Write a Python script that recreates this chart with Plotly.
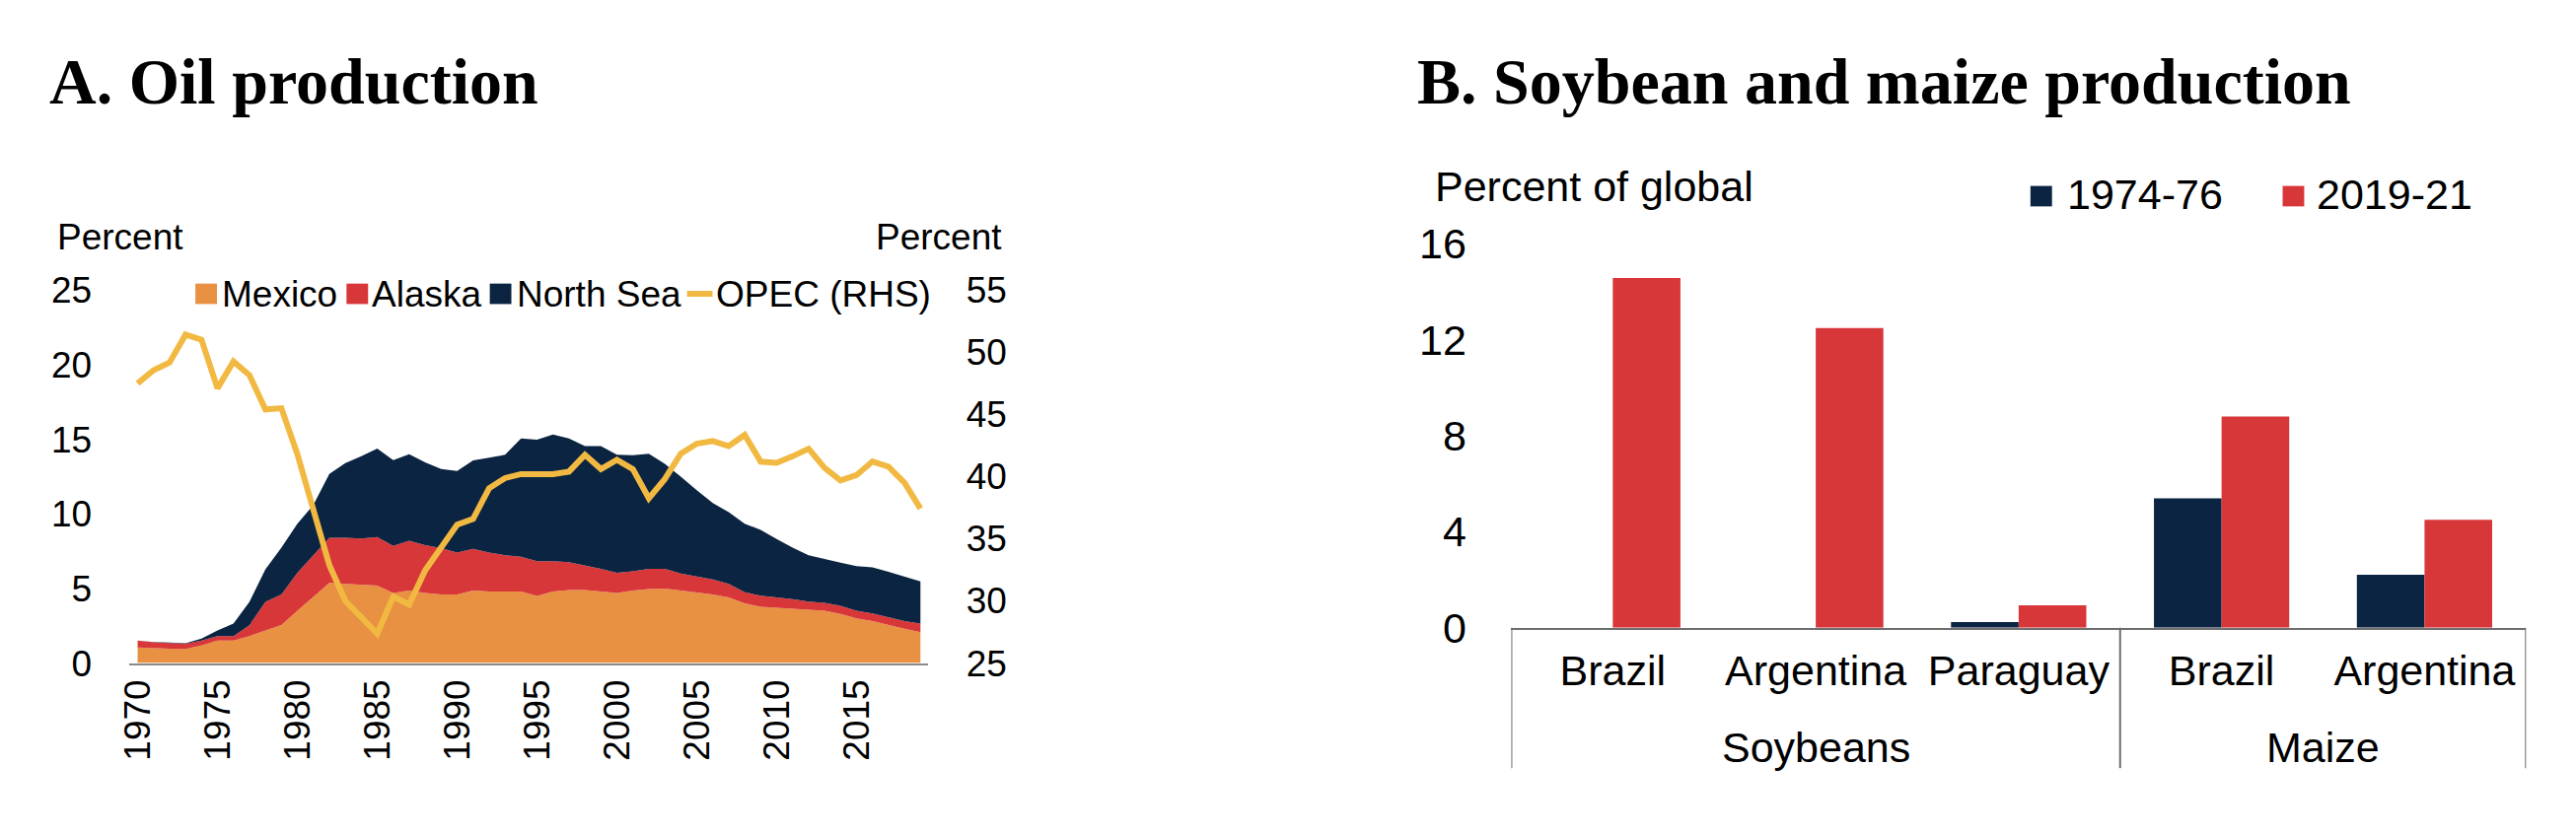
import plotly.graph_objects as go

# ---------------- Data ----------------
years = list(range(1970, 2020))

# Panel A: share of global oil production (percent), stacked
mexico = [1.04, 0.98, 0.96, 0.94, 1.18, 1.50, 1.50, 1.81, 2.20, 2.55,
          3.50, 4.45, 5.37, 5.30, 5.27, 5.20, 4.70, 4.86, 4.70, 4.60,
          4.60, 4.86, 4.80, 4.80, 4.80, 4.50, 4.80, 4.90, 4.90, 4.80,
          4.70, 4.86, 4.96, 5.00, 4.86, 4.75, 4.60, 4.40, 4.00, 3.77,
          3.70, 3.63, 3.57, 3.50, 3.30, 3.00, 2.82, 2.55, 2.30, 2.07]
alaska = [0.46, 0.41, 0.39, 0.35, 0.32, 0.31, 0.31, 0.73, 1.90, 2.05,
          2.55, 2.75, 3.03, 3.10, 3.08, 3.25, 3.15, 3.34, 3.20, 3.10,
          2.80, 2.79, 2.60, 2.43, 2.33, 2.33, 2.03, 1.86, 1.66, 1.52,
          1.35, 1.29, 1.36, 1.32, 1.14, 1.05, 1.00, 0.90, 0.75, 0.75,
          0.72, 0.65, 0.54, 0.54, 0.54, 0.50, 0.51, 0.54, 0.52, 0.58]
north_sea = [0.00, 0.02, 0.03, 0.04, 0.14, 0.37, 0.83, 1.56, 2.18, 3.14,
             3.29, 3.40, 4.27, 5.00, 5.51, 5.92, 5.75, 5.80, 5.55, 5.30,
             5.47, 5.93, 6.36, 6.73, 7.92, 8.15, 8.49, 8.29, 7.98, 8.22,
             7.91, 7.78, 7.71, 7.03, 6.50, 5.78, 5.13, 4.82, 4.59, 4.41,
             3.90, 3.46, 3.12, 2.92, 2.89, 2.99, 3.09, 3.02, 2.95, 2.82]
opec = [47.5, 48.56, 49.17, 51.42, 51.0, 47.1, 49.26, 48.16, 45.4, 45.5,
        41.8, 37.35, 32.87, 30.0, 28.6, 27.36, 30.34, 29.7, 32.46, 34.3,
        36.13, 36.6, 39.06, 39.88, 40.2, 40.2, 40.2, 40.4, 41.75, 40.6,
        41.35, 40.6, 38.25, 39.8, 41.84, 42.65, 42.86, 42.45, 43.35, 41.2,
        41.1, 41.63, 42.24, 40.7, 39.68, 40.12, 41.22, 40.8, 39.5, 37.43]
series_a_names = ["Mexico", "Alaska", "North Sea", "OPEC (RHS)"]
a_ticks_left = [0, 5, 10, 15, 20, 25]
a_ticks_right = [25, 30, 35, 40, 45, 50, 55]
a_year_ticks = list(range(1970, 2020, 5))

# Panel B: percent of global production
groups = ["Soybeans", "Soybeans", "Soybeans", "Maize", "Maize"]
countries = ["Brazil", "Argentina", "Paraguay", "Brazil", "Argentina"]
p1974_76 = [None, None, 0.23, 5.39, 2.21]
p2019_21 = [14.57, 12.48, 0.93, 8.80, 4.50]
series_b_names = ["1974-76", "2019-21"]
b_ticks = [0, 4, 8, 12, 16]

# ---------------- Styling ----------------
W, H = 2612, 848
ORANGE = "#E89142"
RED = "#D8373A"
NAVY = "#0B2442"
YELLOW = "#F2B942"
AXIS_GREY = "#6e6e6e"
SANS = "Liberation Sans, Arial, sans-serif"
SERIF = "Liberation Serif, Times New Roman, serif"


def fx(p):
    return p / W


def fy(p):
    return 1 - p / H


fig = go.Figure()

area_colors = [ORANGE, RED, NAVY]
for name, vals, col in zip(series_a_names[:3], [mexico, alaska, north_sea], area_colors):
    fig.add_trace(go.Scatter(
        x=years, y=vals, name=name, stackgroup="a", mode="lines",
        line=dict(width=0, color=col), fillcolor=col,
        xaxis="x", yaxis="y", showlegend=False))

fig.add_trace(go.Scatter(
    x=years, y=opec, name=series_a_names[3], mode="lines",
    line=dict(color=YELLOW, width=6, shape="linear"),
    xaxis="x", yaxis="y2", showlegend=False))

# unique category keys for panel B (group + country), labelled by country
cat_keys = [g + " " + c for g, c in zip(groups, countries)]
for name, vals, col in zip(series_b_names, [p1974_76, p2019_21], [NAVY, RED]):
    fig.add_trace(go.Bar(
        x=cat_keys, y=vals, name=name, marker=dict(color=col, line=dict(width=0)),
        xaxis="x3", yaxis="y3", showlegend=False))

tick_font_a = dict(family=SANS, size=37, color="black")
tick_font_b = dict(family=SANS, size=43, color="black")

fig.update_layout(
    width=W, height=H, autosize=False,
    margin=dict(l=0, r=0, t=0, b=0),
    paper_bgcolor="white", plot_bgcolor="rgba(0,0,0,0)",
    barmode="group", bargap=1/3, bargroupgap=0,
    xaxis=dict(domain=[fx(111), fx(925)], range=[1969.5, 2019.5],
               tickvals=a_year_ticks, tickangle=-90, tickfont=tick_font_a,
               showgrid=False, zeroline=False, showline=True, linecolor="#8a8a8a",
               linewidth=2, ticks="", anchor="y"),
    yaxis=dict(domain=[fy(679), fy(278)], range=[0, 25], tickvals=a_ticks_left,
               tickfont=tick_font_a, showgrid=False, zeroline=False, showline=False,
               ticks="outside", ticklen=30, tickcolor="rgba(0,0,0,0)", anchor="x"),
    yaxis2=dict(range=[25, 55], tickvals=a_ticks_right, overlaying="y", side="right",
                tickfont=tick_font_a, showgrid=False, zeroline=False, showline=False,
                ticks="outside", ticklen=30, tickcolor="rgba(0,0,0,0)", anchor="x"),
    xaxis3=dict(domain=[fx(1519), fx(2553)], type="category",
                categoryorder="array", categoryarray=cat_keys,
                tickvals=cat_keys, ticktext=countries, range=[-0.5, len(cat_keys) - 0.5],
                tickfont=tick_font_b, showgrid=False, zeroline=False, showline=True,
                linecolor=AXIS_GREY, linewidth=2,
                ticks="outside", ticklen=5, tickcolor="rgba(0,0,0,0)", anchor="y3"),
    yaxis3=dict(domain=[fy(641), fy(228)], range=[0, 16], tickvals=b_ticks,
                tickfont=tick_font_b, showgrid=False, zeroline=False, showline=False,
                ticks="outside", ticklen=36, tickcolor="rgba(0,0,0,0)", anchor="x3"),
)

ann = []
shapes = []


def text(x, y, s, size, family=SANS, anchor="left"):
    ann.append(dict(x=fx(x), y=fy(y), xref="paper", yref="paper", text=s,
                    showarrow=False, xanchor=anchor, yanchor="middle",
                    font=dict(family=family, size=size, color="black")))


# Titles
text(27, 53, "<b>A. Oil production</b>", 66, SERIF)
text(1421, 53, "<b>B. Soybean and maize production</b>", 66, SERIF)
# Axis unit labels
text(35, 221, "Percent", 37)
text(1002, 221, "Percent", 37, anchor="right")
text(1439, 166, "Percent of global", 43)

# Legend, panel A
leg_a_y = 282
for (x0, x1, tx), name, col in zip([(178, 200, 203), (332, 354, 356), (478, 500, 504)],
                                   series_a_names[:3], area_colors):
    shapes.append(dict(type="rect", xref="paper", yref="paper",
                       x0=fx(x0), x1=fx(x1), y0=fy(leg_a_y + 11), y1=fy(leg_a_y - 11),
                       fillcolor=col, line=dict(width=0)))
    text(tx, leg_a_y, name, 37)
shapes.append(dict(type="line", xref="paper", yref="paper", x0=fx(679), x1=fx(705),
                   y0=fy(leg_a_y), y1=fy(leg_a_y), line=dict(color=YELLOW, width=6)))
text(707, leg_a_y, series_a_names[3], 37)

# Legend, panel B
leg_b_y = 177
for (x0, x1, tx), name, col in zip([(2048, 2070, 2083), (2305, 2327, 2338)],
                                   series_b_names, [NAVY, RED]):
    shapes.append(dict(type="rect", xref="paper", yref="paper",
                       x0=fx(x0), x1=fx(x1), y0=fy(leg_b_y + 11), y1=fy(leg_b_y - 11),
                       fillcolor=col, line=dict(width=0)))
    text(tx, leg_b_y - 2, name, 43)

# Panel B group labels and dividers (positions on the category scale)
group_names = []
for g in groups:
    if g not in group_names:
        group_names.append(g)
boundaries = [-0.5]
for gname in group_names:
    idx = [i for i, g in enumerate(groups) if g == gname]
    ann.append(dict(x=sum(idx) / len(idx), xref="x3", y=fy(770), yref="paper",
                    text=gname, showarrow=False, xanchor="center", yanchor="middle",
                    font=tick_font_b))
    boundaries.append(max(idx) + 0.5)
for b in boundaries:
    shapes.append(dict(type="line", xref="x3", yref="paper", x0=b, x1=b,
                       y0=fy(641), y1=fy(792), line=dict(color=AXIS_GREY, width=2)))

fig.update_layout(annotations=ann, shapes=shapes)

fig.write_html("out.html")
